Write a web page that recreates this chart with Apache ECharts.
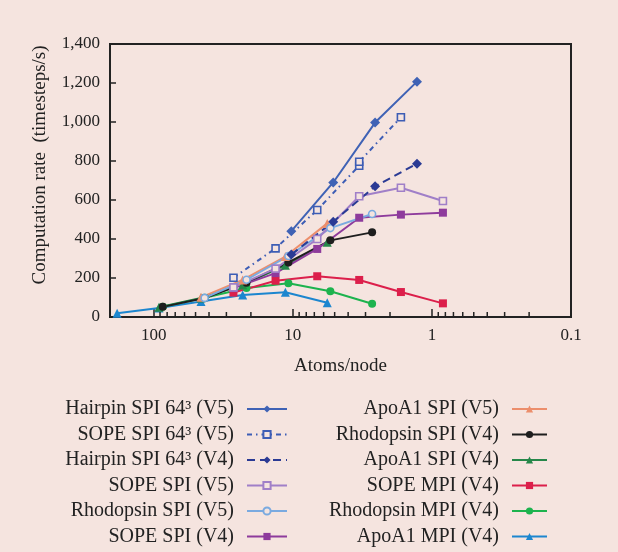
<!DOCTYPE html>
<html><head><meta charset="utf-8">
<script src="https://cdn.jsdelivr.net/npm/echarts@6/dist/echarts.min.js"></script>
<style>html,body{margin:0;padding:0;background:#F5E4DF;}#c{width:618px;height:552px;}</style>
</head><body><div id="c"></div>
<script>
// x = atoms/node, y = computation rate (timesteps/s)
const hairpin64V5 = [[10.24, 440], [5.12, 690], [2.56, 997], [1.28, 1207]];
const sope64V5 = [[26.7, 201], [13.3, 352], [6.67, 549], [3.33, 776], [3.33, 796], [1.67, 1024]];
const hairpin64V4 = [[10.24, 320], [5.12, 489], [2.56, 670], [1.28, 786]];
const sopeSpiV5 = [[26.7, 152], [13.3, 248], [6.67, 400], [3.33, 619], [1.67, 663], [0.833, 595]];
const rhodoSpiV5 = [[43, 98], [21.5, 191], [10.75, 313], [5.37, 456], [2.69, 528]];
const sopeSpiV4 = [[26.7, 148], [13.3, 225], [6.67, 349], [3.33, 509], [1.67, 525], [0.833, 535]];
const apoSpiV5 = [[45.7, 101], [22.9, 190], [11.3, 310], [5.65, 480]];
const rhodoSpiV4 = [[86, 52], [43, 97], [21.5, 176], [10.75, 280], [5.37, 393], [2.69, 434]];
const apoSpiV4 = [[91.5, 50], [45.7, 98], [22.9, 165], [11.3, 265], [5.65, 383]];
const sopeMpiV4 = [[26.7, 125], [13.3, 186], [6.67, 209], [3.33, 190], [1.67, 128], [0.833, 70]];
const rhodoMpiV4 = [[86, 53], [43, 99], [21.5, 149], [10.75, 173], [5.37, 132], [2.69, 68]];
const apoMpiV4 = [[183, 19], [91.5, 46], [45.7, 80], [22.9, 113], [11.3, 127], [5.65, 73]];

const legendLeft = ['Hairpin SPI 64³ (V5)', 'SOPE SPI 64³ (V5)', 'Hairpin SPI 64³ (V4)', 'SOPE SPI (V5)', 'Rhodopsin SPI (V5)', 'SOPE SPI (V4)'];
const legendRight = ['ApoA1 SPI (V5)', 'Rhodopsin SPI (V4)', 'ApoA1 SPI (V4)', 'SOPE MPI (V4)', 'Rhodopsin MPI (V4)', 'ApoA1 MPI (V4)'];
const minorTicks = [90, 80, 70, 60, 50, 40, 30, 20, 9, 8, 7, 6, 5, 4, 3, 2, 0.9, 0.8, 0.7, 0.6, 0.5, 0.4, 0.3, 0.2];
const yTicks = [0, 200, 400, 600, 800, 1000, 1200, 1400];

const BG = '#F5E4DF';
const FONT = 'Liberation Serif';
const INK = '#222';

function mk(name, data, color, symbol, size, opts) {
  opts = opts || {};
  return {
    name: name, type: 'line', data: data, symbol: symbol, symbolSize: size,
    lineStyle: { color: color, width: 2, type: opts.dash || 'solid' },
    itemStyle: opts.open ? { color: BG, borderColor: color, borderWidth: 1.6 } : { color: color },
    emphasis: { disabled: true }, z: opts.z || 2
  };
}

const series = [
  mk('ApoA1 MPI (V4)', apoMpiV4, '#1C86CF', 'triangle', 9),
  mk('Rhodopsin MPI (V4)', rhodoMpiV4, '#1DB34E', 'circle', 8),
  mk('SOPE MPI (V4)', sopeMpiV4, '#DC1F4B', 'rect', 8),
  mk('ApoA1 SPI (V4)', apoSpiV4, '#26874A', 'triangle', 9),
  mk('Rhodopsin SPI (V4)', rhodoSpiV4, '#1E1E1E', 'circle', 8),
  mk('SOPE SPI (V4)', sopeSpiV4, '#8E3B9C', 'rect', 8),
  mk('ApoA1 SPI (V5)', apoSpiV5, '#EC8E6C', 'triangle', 9),
  mk('Rhodopsin SPI (V5)', rhodoSpiV5, '#7AAAE0', 'circle', 7, { open: true }),
  mk('SOPE SPI (V5)', sopeSpiV5, '#A07FC8', 'rect', 7, { open: true }),
  mk('Hairpin SPI 64³ (V4)', hairpin64V4, '#2A3A94', 'diamond', 10, { dash: [8, 5] }),
  mk('SOPE SPI 64³ (V5)', sope64V5, '#3D5DB5', 'rect', 7, { open: true, dash: [5, 4, 1.5, 4] }),
  mk('Hairpin SPI 64³ (V5)', hairpin64V5, '#3F62B5', 'diamond', 10),
  {
    type: 'custom', silent: true, z: 5, clip: false,
    data: minorTicks.map(v => [v, 0]),
    encode: { x: 0, y: 1 },
    renderItem: function (params, api) {
      const p = api.coord([api.value(0), api.value(1)]);
      return { type: 'line', shape: { x1: p[0], y1: p[1], x2: p[0], y2: p[1] - 5 }, style: { stroke: INK, lineWidth: 1.5 } };
    }
  }
];

const legendCommon = {
  orient: 'vertical', align: 'right', itemHeight: 9, itemGap: 5.5,
  selectedMode: false, padding: 5,
  textStyle: { fontFamily: FONT, fontSize: 20, color: INK, lineHeight: 20, padding: [0, 8, 0, 0] }
};

const chart = echarts.init(document.getElementById('c'), null, { renderer: 'canvas' });
chart.setOption({
  backgroundColor: BG,
  animation: false,
  grid: { left: 110, right: 47, top: 44, bottom: 235, show: true, borderColor: INK, borderWidth: 2, backgroundColor: 'transparent' },
  xAxis: {
    type: 'log', logBase: 10, min: 0.1, max: 206, inverse: true,
    name: 'Atoms/node', nameLocation: 'middle', nameGap: 40,
    nameTextStyle: { fontFamily: FONT, fontSize: 19, color: INK },
    axisLine: { show: true, lineStyle: { color: INK, width: 2 } },
    axisTick: { show: true, inside: true, length: 8, lineStyle: { color: INK, width: 1.5 } },
    axisLabel: {
      fontFamily: FONT, fontSize: 17, color: INK, margin: 10,
      formatter: function (v) { return v > 150 ? '' : String(+Number(v).toPrecision(3)); }
    },
    splitLine: { show: false }
  },
  yAxis: {
    type: 'value', min: 0, max: 1400, interval: 200,
    axisLine: { show: true, lineStyle: { color: INK, width: 2 } },
    axisTick: { show: true, inside: true, length: 6, lineStyle: { color: INK, width: 1.5 } },
    axisLabel: {
      fontFamily: FONT, fontSize: 17, color: INK, margin: 10,
      formatter: function (v) { return yTicks.indexOf(v) >= 0 ? v.toLocaleString('en-US') : ''; }
    },
    splitLine: { show: false }
  },
  graphic: [{
    type: 'text', x: 40, y: 165, rotation: Math.PI / 2,
    style: { text: 'Computation rate  (timesteps/s)', font: '19px "Liberation Serif"', fill: INK, align: 'center', verticalAlign: 'middle' }
  }],
  legend: [
    Object.assign({}, legendCommon, { data: legendLeft, right: 325, top: 394, itemWidth: 40 }),
    Object.assign({}, legendCommon, { data: legendRight, right: 65, top: 394, itemWidth: 35 })
  ],
  series: series
});
</script>
</body></html>
